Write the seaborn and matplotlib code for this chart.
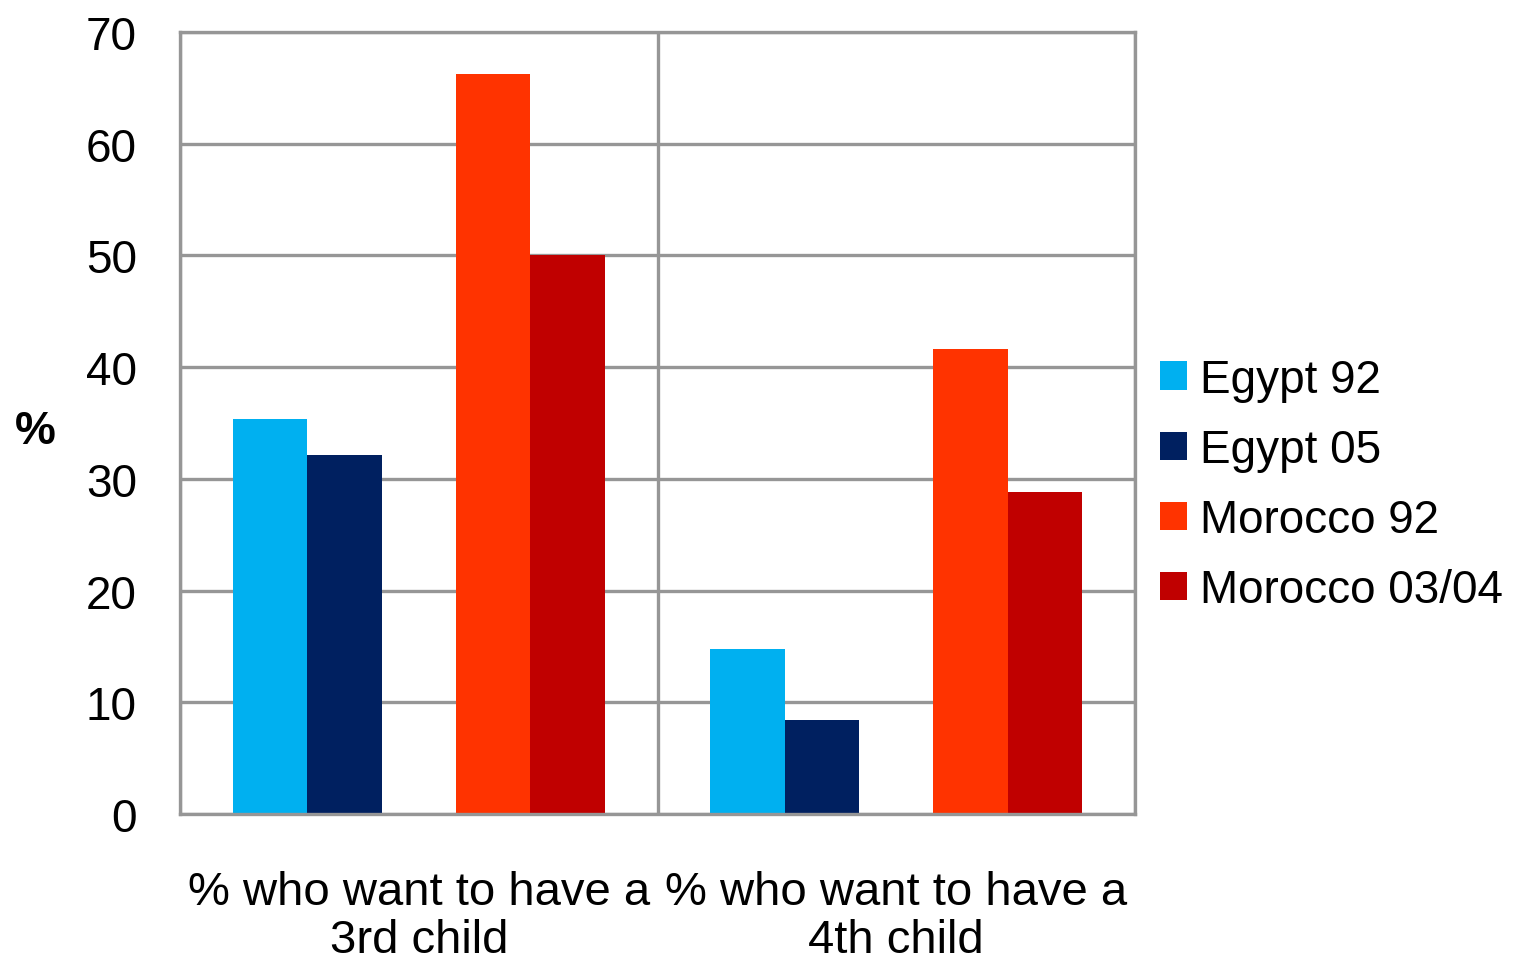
import matplotlib
matplotlib.use("Agg")
import matplotlib.pyplot as plt
from matplotlib.patches import Patch
import pandas as pd
import seaborn as sns

# Survey questions (x categories)
questions = ["% who want to have a\n3rd child", "% who want to have a\n4th child"]

# Series values (%), one list per survey
egypt_92 = [35.4, 14.8]
egypt_05 = [32.1, 8.4]
morocco_92 = [66.2, 41.6]
morocco_0304 = [50.0, 28.8]

series_names = ["Egypt 92", "Egypt 05", "Morocco 92", "Morocco 03/04"]
series_values = [egypt_92, egypt_05, morocco_92, morocco_0304]
series_colors = ["#00B0F0", "#002060", "#FF3300", "#C00000"]

y_ticks = [0, 10, 20, 30, 40, 50, 60, 70]

# Long-form table for seaborn
rows = []
for name, vals in zip(series_names, series_values):
    for q, v in zip(questions, vals):
        rows.append({"question": q, "series": name, "value": v})
df = pd.DataFrame(rows)

# An empty slot separates the Egypt pair from the Morocco pair
spacer = " "
hue_order = ["Egypt 92", "Egypt 05", spacer, "Morocco 92", "Morocco 03/04"]
palette = dict(zip(series_names, series_colors))
palette[spacer] = "#FFFFFF"

sns.set_style("white")
plt.rcParams["font.family"] = ["Liberation Sans", "DejaVu Sans"]
plt.rcParams["text.color"] = "black"
plt.rcParams["xtick.color"] = "black"
plt.rcParams["ytick.color"] = "black"
plt.rcParams["axes.labelcolor"] = "black"

GRID = "#969696"
LW = 2.4
FS = 33

fig = plt.figure(figsize=(15.22, 9.62), dpi=100)
ax = fig.add_axes([180 / 1522, 1 - 815 / 962, 955 / 1522, 782 / 962])

sns.barplot(
    data=df, x="question", y="value", hue="series",
    order=questions, hue_order=hue_order, palette=palette,
    width=0.78, dodge=True, errorbar=None, linewidth=0,
    saturation=1, legend=False, ax=ax,
)

ax.set_xlim(-0.5, 1.5)
ax.set_ylim(0, 70)
ax.set_yticks(y_ticks)
ax.set_yticklabels([str(t) for t in y_ticks], fontsize=FS, color="black")
ax.set_xticks(range(len(questions)))
ax.set_xticklabels(questions, fontsize=34, linespacing=1.14, color="black")
ax.set_xticks([-0.5, 0.5, 1.5], minor=True)

ax.tick_params(axis="x", which="major", length=0, pad=40)
ax.tick_params(axis="x", which="minor", length=11, width=LW, color=GRID, direction="out")
ax.tick_params(axis="y", which="major", length=11, width=LW, color=GRID, direction="out", pad=20)

ax.set_axisbelow(True)
ax.grid(axis="y", which="major", color=GRID, linewidth=LW)
ax.grid(axis="x", which="minor", color=GRID, linewidth=LW)
ax.grid(axis="x", which="major", visible=False)

for side in ["left", "bottom", "top", "right"]:
    ax.spines[side].set_visible(True)
    ax.spines[side].set_color(GRID)
    ax.spines[side].set_linewidth(LW)

ax.set_xlabel("")
ax.set_ylabel("%", fontsize=FS, fontweight="bold", rotation=0, va="center", ha="center",
              color="black")
ax.yaxis.set_label_coords(-0.152, 0.49)

handles = [Patch(facecolor=c, edgecolor="none") for c in series_colors]
fig.legend(
    handles, series_names, loc="center left",
    bbox_to_anchor=(1160 / 1522, 1 - 486 / 962),
    frameon=False, fontsize=FS, borderpad=0, borderaxespad=0,
    handlelength=0.58, handleheight=0.58, handletextpad=0.3,
    labelspacing=0.57, labelcolor="black",
)

fig.savefig("out.png", dpi=100)
